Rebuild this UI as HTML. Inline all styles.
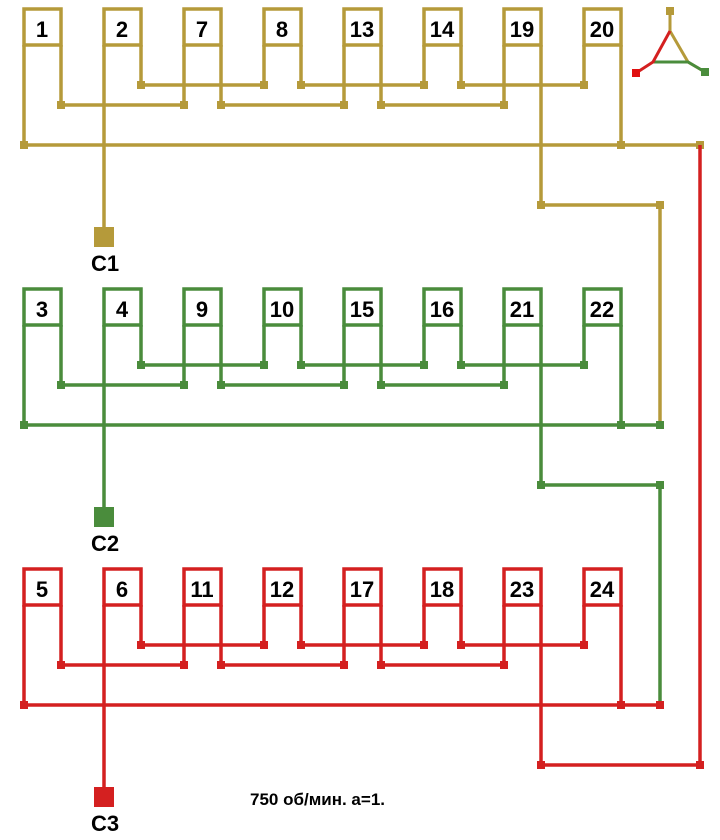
<!DOCTYPE html>
<html><head><meta charset="utf-8"><style>
html,body{margin:0;padding:0;background:#fff;}
svg{display:block}
text{font-family:"Liberation Sans",sans-serif;font-weight:bold;fill:#000}
</style></head><body>
<svg width="720" height="840" viewBox="0 0 720 840" xmlns="http://www.w3.org/2000/svg">
<defs>
<g id="grp" fill="none" stroke-width="3.5">
  <rect x="24" y="9" width="37" height="36"/><rect x="104" y="9" width="37" height="36"/>
  <rect x="184" y="9" width="37" height="36"/><rect x="264" y="9" width="37" height="36"/>
  <rect x="344" y="9" width="37" height="36"/><rect x="424" y="9" width="37" height="36"/>
  <rect x="504" y="9" width="37" height="36"/><rect x="584" y="9" width="37" height="36"/>
  <path d="M24 45V145 M61 45V105 M104 45V237 M141 45V85 M184 45V105 M221 45V105 M264 45V85 M301 45V85 M344 45V105 M381 45V105 M424 45V85 M461 45V85 M504 45V105 M584 45V85 M621 45V145"/>
  <path d="M61 105H184 M221 105H344 M381 105H504 M141 85H264 M301 85H424 M461 85H584 M24 145H660"/>
  <g stroke="none" fill="currentColor">
    <rect x="57" y="101" width="8" height="8"/><rect x="180" y="101" width="8" height="8"/>
    <rect x="217" y="101" width="8" height="8"/><rect x="340" y="101" width="8" height="8"/>
    <rect x="377" y="101" width="8" height="8"/><rect x="500" y="101" width="8" height="8"/>
    <rect x="137" y="81" width="8" height="8"/><rect x="260" y="81" width="8" height="8"/>
    <rect x="297" y="81" width="8" height="8"/><rect x="420" y="81" width="8" height="8"/>
    <rect x="457" y="81" width="8" height="8"/><rect x="580" y="81" width="8" height="8"/>
    <rect x="20" y="141" width="8" height="8"/><rect x="617" y="141" width="8" height="8"/>
    <rect x="94" y="227" width="20" height="20"/>
  </g>
</g>
</defs>
<g color="#b59a3a" stroke="#b59a3a"><use href="#grp"/>
  <path d="M660 145H700 M541 45V205H660V425" fill="none" stroke-width="3.5"/>
  <g fill="#b59a3a" stroke="none"><rect x="696" y="141" width="8" height="8"/><rect x="537" y="201" width="8" height="8"/><rect x="656" y="201" width="8" height="8"/></g>
</g>
<g color="#4a8c3c" stroke="#4a8c3c" transform="translate(0,280)"><use href="#grp"/>
  <path d="M541 45V205H660V425" fill="none" stroke-width="3.5"/>
  <g fill="#4a8c3c" stroke="none"><rect x="656" y="141" width="8" height="8"/><rect x="537" y="201" width="8" height="8"/><rect x="656" y="201" width="8" height="8"/></g>
</g>
<g color="#d42020" stroke="#d42020" transform="translate(0,560)"><use href="#grp"/>
  <path d="M541 45V205H700V-415" fill="none" stroke-width="3.5"/>
  <g fill="#d42020" stroke="none"><rect x="656" y="141" width="8" height="8"/><rect x="537" y="201" width="8" height="8"/><rect x="696" y="201" width="8" height="8"/></g>
</g>
<path d="M670 10V31 L688 62 L705 72" stroke="#b59a3a" stroke-width="3" fill="none"/>
<path d="M653 62H688 L705 72" stroke="#4a8c3c" stroke-width="3" fill="none"/>
<path d="M670 31 L653 62 L636 73" stroke="#d42020" stroke-width="3" fill="none"/>
<rect x="666" y="7" width="8" height="8" fill="#b59a3a"/>
<rect x="632" y="69" width="8" height="8" fill="#e01010"/>
<rect x="701" y="68" width="8" height="8" fill="#4a8c3c"/>
<g font-size="22" text-anchor="middle">
<text x="42" y="37">1</text><text x="122" y="37">2</text><text x="202" y="37">7</text><text x="282" y="37">8</text>
<text x="362" y="37">13</text><text x="442" y="37">14</text><text x="522" y="37">19</text><text x="602" y="37">20</text>
<text x="42" y="317">3</text><text x="122" y="317">4</text><text x="202" y="317">9</text><text x="282" y="317">10</text>
<text x="362" y="317">15</text><text x="442" y="317">16</text><text x="522" y="317">21</text><text x="602" y="317">22</text>
<text x="42" y="597">5</text><text x="122" y="597">6</text><text x="202" y="597">11</text><text x="282" y="597">12</text>
<text x="362" y="597">17</text><text x="442" y="597">18</text><text x="522" y="597">23</text><text x="602" y="597">24</text>
<text x="105" y="271">C1</text><text x="105" y="551">C2</text><text x="105" y="831">C3</text>
</g>
<text x="250" y="805" font-size="17">750 об/мин. а=1.</text>
</svg>
</body></html>
